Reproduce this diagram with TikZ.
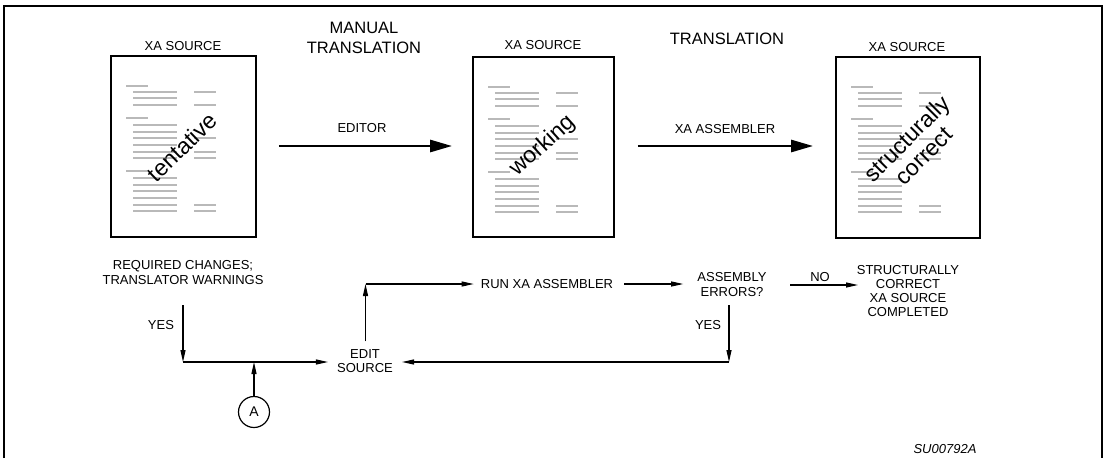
\documentclass[tikz,border=0pt]{standalone}
\usepackage{fontspec}
\setmainfont{Liberation Sans}
\usetikzlibrary{arrows.meta}

% rows of source text drawn inside a document sheet (local coordinates)
\newcommand\sourcelines{%
  \foreach \dy in {31,63,116} \draw[txt] (16,\dy) -- (38,\dy);
  \foreach \dy in {37,43,50,70,77,83,90,97,103,123,130,136,143,150,156} \draw[txt] (23,\dy) -- (67,\dy);
  \foreach \dy in {37,50,83,97,103,150,156} \draw[txt] (84,\dy) -- (106,\dy);
}

\begin{document}
\begin{tikzpicture}[x=1pt,y=-1pt,
  lbl/.style={font=\fontsize{13}{15}\selectfont, align=center, inner sep=0pt},
  head/.style={font=\fontsize{16.5}{20}\selectfont, align=center, inner sep=0pt},
  diag/.style={font=\fontsize{23}{24}\selectfont, align=center, inner sep=0pt},
  docbox/.style={draw, line width=1.8pt, inner sep=0pt},
  txt/.style={draw=gray!55, line width=2.5pt},
  arr/.style={-{Triangle[length=12pt,width=5pt]}, line width=1.1pt},
  bigarr/.style={-{Triangle[length=22pt,width=12pt]}, line width=2.7pt},
]
\useasboundingbox (0,0) rectangle (1105,458);

% outer frame
\draw[line width=1.5pt] (4,458) -- (4,6) -- (1102,6) -- (1102,458);

% ---- top row: the three stages of the source ----
\node[docbox, minimum width=145pt, minimum height=181pt] (d1) at (183.5,146.5) {};
\node[docbox, minimum width=141pt, minimum height=180pt] (d2) at (543.5,147) {};
\node[docbox, minimum width=144pt, minimum height=181pt] (d3) at (908,147.5) {};

\begin{scope}[shift={(d1.north west)}]\sourcelines\end{scope}
\begin{scope}[shift={(d2.north west)}]\sourcelines\end{scope}
\begin{scope}[shift={(d3.north west)}]\sourcelines\end{scope}

\node[diag, rotate=44] (w1) at (182,147) {tentative};
\node[diag, rotate=42] (w2) at (543,146) {working};
\node[diag, rotate=45] (w3) at (915,147) {structurally\\correct};

\node[lbl] (s1) at (183,46) {XA SOURCE};
\node[lbl] (s2) at (543,45) {XA SOURCE};
\node[lbl] (s3) at (907,47) {XA SOURCE};

\node[head] (manual) at (364,38) {MANUAL\\TRANSLATION};
\node[head] (trans) at (727,39) {TRANSLATION};

\node[lbl] (editor) at (362,128) {EDITOR};
\node[lbl] (xaasm) at (725,129) {XA ASSEMBLER};

\draw[bigarr, shorten <=22pt, shorten >=20pt] (d1.east |- 0,146) -- (d2.west |- 0,146);
\draw[bigarr, shorten <=23pt, shorten >=22pt] (d2.east |- 0,146) -- (d3.west |- 0,146);

% ---- bottom row: edit / assemble loop ----
\node[lbl] (req) at (183,272.5) {REQUIRED CHANGES;\\TRANSLATOR WARNINGS};
\node[lbl, font=\fontsize{13}{14}\selectfont] (es) at (365,361) {EDIT\\SOURCE};
\node[lbl] (run) at (547,284) {RUN XA ASSEMBLER};
\node[lbl] (ae) at (732,284.5) {ASSEMBLY\\ERRORS?};
\node[lbl, font=\fontsize{13}{14}\selectfont] (sc) at (908,291) {STRUCTURALLY\\CORRECT\\XA SOURCE\\COMPLETED};
\node[draw, circle, line width=1.2pt, minimum size=31pt, inner sep=0pt,
      font=\fontsize{14}{14}\selectfont] (a) at (254,412) {A};

\node[lbl] (yes1) at (161,325) {YES};
\node[lbl] (yes2) at (708,325) {YES};
\node[lbl] (no) at (820,277) {NO};
\node[lbl, font=\fontsize{13}{15}\itshape] (code) at (945,449) {SU00792A};

\coordinate (reqout) at (183,305);
\coordinate (j1) at (183,362);
\coordinate (ja) at (254,362);
\coordinate (c1) at (365.5,284);
\coordinate (aeout) at (729,305);
\coordinate (j2) at (729,362);
\coordinate (noin) at (790,285);
\coordinate (scin) at (858,285);

\draw[arr] (reqout) -- (j1);
\draw[arr, shorten >=9pt] (j1) -- (es.west |- j1);
\draw[arr] (a.north) -- (ja);
\draw[arr, shorten <=8pt] (es.north -| c1) -- (c1);
\draw[arr, shorten >=7pt] (c1) -- (run.west |- c1);
\draw[arr, shorten <=11pt, shorten >=14pt] (run.east) -- (ae.west |- run.east);
\draw[arr] (aeout) -- (j2);
\draw[arr, shorten >=9pt] (j2) -- (es.east |- j2);
\draw[arr] (noin) -- (scin);
\end{tikzpicture}
\end{document}
